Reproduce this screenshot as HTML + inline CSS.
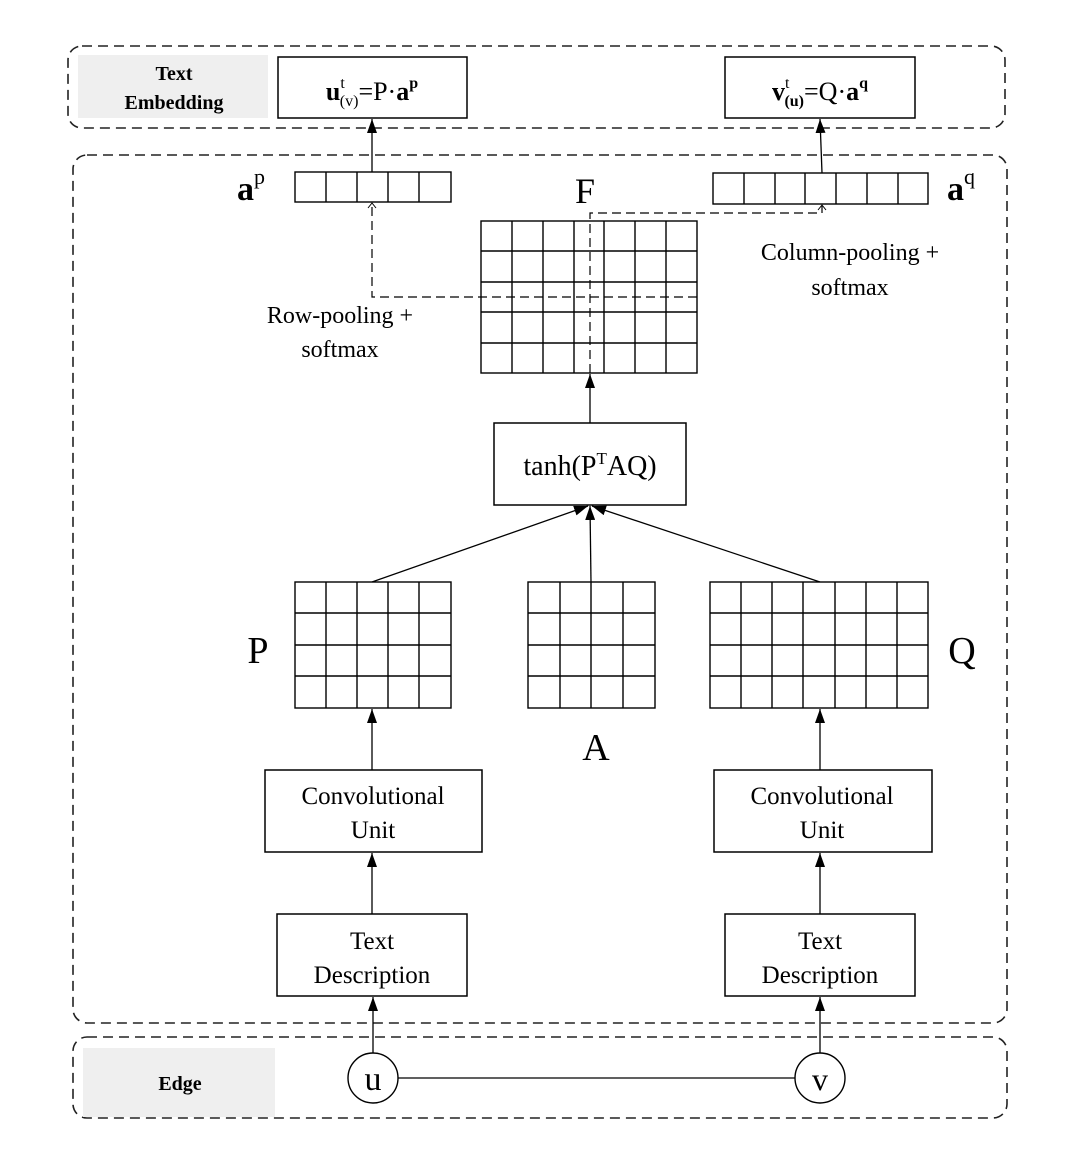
<!DOCTYPE html>
<html><head><meta charset="utf-8"><style>body{margin:0;background:#fff}svg{display:block}</style></head><body>
<svg width="1080" height="1175" viewBox="0 0 1080 1175" xmlns="http://www.w3.org/2000/svg" font-family="Liberation Serif, serif">
<defs><marker id="ar" markerWidth="14" markerHeight="10" refX="14" refY="5" orient="auto" markerUnits="userSpaceOnUse" viewBox="0 0 14 10"><path d="M0,0 L14,5 L0,10 Z" fill="#000"/></marker></defs>
<g fill="none" stroke="#222" stroke-width="1.6" stroke-dasharray="10,6">
<rect x="68" y="46" width="937" height="82" rx="14"/>
<rect x="73" y="155" width="934" height="868" rx="14"/>
<rect x="73" y="1037" width="934" height="81" rx="14"/>
</g>
<rect x="78" y="55" width="190" height="63" fill="#efefef"/>
<rect x="83" y="1048" width="192" height="69" fill="#efefef"/>
<text x="174" y="80" font-size="20" font-weight="bold" text-anchor="middle">Text</text>
<text x="174" y="109" font-size="20" font-weight="bold" text-anchor="middle">Embedding</text>
<text x="180" y="1090" font-size="20" font-weight="bold" text-anchor="middle">Edge</text>
<g fill="#fff" stroke="#000" stroke-width="1.5">
<rect x="278" y="57" width="189" height="61"/>
<rect x="725" y="57" width="190" height="61"/>
<rect x="494" y="423" width="192" height="82"/>
<rect x="265" y="770" width="217" height="82"/>
<rect x="714" y="770" width="218" height="82"/>
<rect x="277" y="914" width="190" height="82"/>
<rect x="725" y="914" width="190" height="82"/>
</g>
<text x="372" y="100" font-size="26" text-anchor="middle"><tspan font-weight="bold">u</tspan><tspan font-size="16" dy="-12">t</tspan><tspan font-size="16" dy="18" dx="-5">(v)</tspan><tspan dy="-6">=P·</tspan><tspan font-weight="bold">a</tspan><tspan font-size="16" dy="-12" font-weight="bold">p</tspan></text>
<text x="820" y="100" font-size="26" text-anchor="middle"><tspan font-weight="bold">v</tspan><tspan font-size="16" dy="-12">t</tspan><tspan font-size="16" dy="18" dx="-5" font-weight="bold">(u)</tspan><tspan dy="-6">=Q·</tspan><tspan font-weight="bold">a</tspan><tspan font-size="16" dy="-12" font-weight="bold">q</tspan></text>
<g stroke="#000" stroke-width="1.4" fill="none">
<rect x="295" y="172" width="156" height="30"/>
<path d="M326,172V202M357,172V202M388,172V202M419,172V202"/>
<rect x="713" y="173" width="215" height="31"/>
<path d="M744,173V204M775,173V204M805,173V204M836,173V204M867,173V204M898,173V204"/>
<rect x="481" y="221" width="216" height="152"/>
<path d="M512,221V373M543,221V373M574,221V373M604,221V373M635,221V373M666,221V373M481,251H697M481,282H697M481,312H697M481,343H697"/>
<rect x="295" y="582" width="156" height="126"/>
<path d="M326,582V708M357,582V708M388,582V708M419,582V708M295,613H451M295,645H451M295,676H451"/>
<rect x="528" y="582" width="127" height="126"/>
<path d="M560,582V708M591,582V708M623,582V708M528,613H655M528,645H655M528,676H655"/>
<rect x="710" y="582" width="218" height="126"/>
<path d="M741,582V708M772,582V708M803,582V708M835,582V708M866,582V708M897,582V708M710,613H928M710,645H928M710,676H928"/>
</g>
<g stroke="#000" stroke-width="1.3" fill="none">
<line x1="372" y1="172" x2="372" y2="119" marker-end="url(#ar)"/>
<line x1="822" y1="173" x2="820" y2="119" marker-end="url(#ar)"/>
<line x1="590" y1="423" x2="590" y2="374" marker-end="url(#ar)"/>
<line x1="372" y1="582" x2="588" y2="506" marker-end="url(#ar)"/>
<line x1="591" y1="582" x2="590" y2="506" marker-end="url(#ar)"/>
<line x1="820" y1="582" x2="592" y2="506" marker-end="url(#ar)"/>
<line x1="372" y1="770" x2="372" y2="709" marker-end="url(#ar)"/>
<line x1="820" y1="770" x2="820" y2="709" marker-end="url(#ar)"/>
<line x1="372" y1="914" x2="372" y2="853" marker-end="url(#ar)"/>
<line x1="820" y1="914" x2="820" y2="853" marker-end="url(#ar)"/>
<line x1="373" y1="1054" x2="373" y2="997" marker-end="url(#ar)"/>
<line x1="820" y1="1054" x2="820" y2="997" marker-end="url(#ar)"/>
<line x1="398" y1="1078" x2="796" y2="1078"/>
</g>
<g stroke="#000" stroke-width="1.2" fill="none" stroke-dasharray="9,5">
<path d="M697,297H372V204"/>
<path d="M590,373V213H822V206"/>
</g>
<path d="M368,208L372,203L376,208M818,210L822,205L826,210" stroke="#000" fill="none" stroke-width="1"/>
<circle cx="373" cy="1078" r="25" fill="#fff" stroke="#000" stroke-width="1.4"/>
<circle cx="820" cy="1078" r="25" fill="#fff" stroke="#000" stroke-width="1.4"/>
<text x="373" y="1090" font-size="34" text-anchor="middle">u</text>
<text x="820" y="1090" font-size="32" text-anchor="middle">v</text>
<text x="237" y="200" font-size="34" font-weight="bold">a<tspan font-size="22" font-weight="normal" dy="-16">p</tspan></text>
<text x="947" y="200" font-size="34" font-weight="bold">a<tspan font-size="22" font-weight="normal" dy="-16">q</tspan></text>
<text x="585" y="203" font-size="36" text-anchor="middle">F</text>
<text x="340" y="323" font-size="24" text-anchor="middle">Row-pooling +</text>
<text x="340" y="357" font-size="24" text-anchor="middle">softmax</text>
<text x="850" y="260" font-size="24" text-anchor="middle">Column-pooling +</text>
<text x="850" y="295" font-size="24" text-anchor="middle">softmax</text>
<text x="590" y="475" font-size="28" text-anchor="middle">tanh(P<tspan font-size="17" dy="-11">T</tspan><tspan dy="11">AQ)</tspan></text>
<text x="258" y="663" font-size="38" text-anchor="middle">P</text>
<text x="962" y="663" font-size="38" text-anchor="middle">Q</text>
<text x="596" y="760" font-size="38" text-anchor="middle">A</text>
<g font-size="25" text-anchor="middle">
<text x="373" y="804">Convolutional</text><text x="373" y="838">Unit</text>
<text x="822" y="804">Convolutional</text><text x="822" y="838">Unit</text>
<text x="372" y="949">Text</text><text x="372" y="983">Description</text>
<text x="820" y="949">Text</text><text x="820" y="983">Description</text>
</g>
</svg>
</body></html>
